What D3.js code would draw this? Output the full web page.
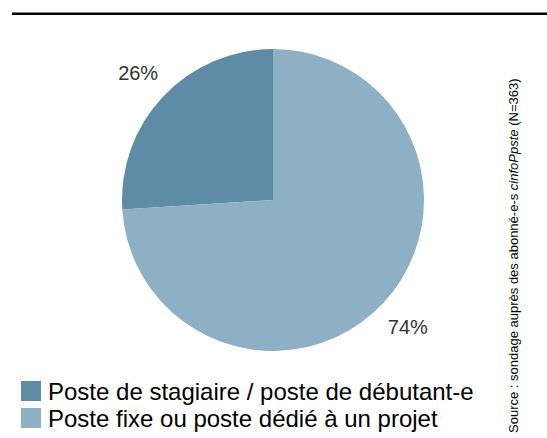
<!DOCTYPE html>
<html>
<head>
<meta charset="utf-8">
<script src="https://cdn.jsdelivr.net/npm/d3@7"></script>
<style>
  body { margin: 0; background: #fff; }
  text { font-family: Arial, "Liberation Sans", sans-serif; }
</style>
</head>
<body>
<svg id="chart" width="547" height="438"></svg>
<script>
// data
const categories = ["Poste de stagiaire / poste de débutant-e", "Poste fixe ou poste dédié à un projet"];
const values = [26, 74];
const colors = ["#5e8ca6", "#8eb0c4"];
const sourceText = ["Source : sondage auprès des abonné-e-s ", "cinfoPpste", " (N=363)"];

const svg = d3.select("#chart");

// rule at the top
svg.append("line")
  .attr("x1", 12).attr("x2", 547)
  .attr("y1", 13.8).attr("y2", 13.8)
  .attr("stroke", "#000")
  .attr("stroke-width", 2.5);

const cx = 273, cy = 200, r = 151;

// default pie sort puts the big slice first, starting at 12 o'clock
const pie = d3.pie().value((d) => d.value);
const arcs = pie(categories.map((c, i) => ({ name: c, value: values[i], color: colors[i] })));

const arc = d3.arc().innerRadius(0).outerRadius(r);
const labelArc = d3.arc().innerRadius(185).outerRadius(185);

const g = svg.append("g").attr("transform", `translate(${cx},${cy})`);

g.selectAll("path")
  .data(arcs)
  .enter()
  .append("path")
  .attr("d", arc)
  .attr("fill", (d) => d.data.color);

g.selectAll(".lbl")
  .data(arcs)
  .enter()
  .append("text")
  .attr("class", "lbl")
  .attr("transform", (d) => `translate(${labelArc.centroid(d)})`)
  .attr("text-anchor", "middle")
  .attr("dy", "0.35em")
  .attr("font-size", 20)
  .attr("fill", "#333")
  .text((d) => d.data.value + "%");

// legend
const legend = svg.selectAll(".legend")
  .data(categories)
  .enter()
  .append("g")
  .attr("class", "legend")
  .attr("transform", (d, i) => `translate(21,${381 + i * 27})`);

legend.append("rect")
  .attr("width", 20)
  .attr("height", 20)
  .attr("fill", (d, i) => colors[i]);

legend.append("text")
  .attr("x", 27)
  .attr("y", 18.5)
  .attr("font-size", 24)
  .attr("fill", "#000")
  .text((d) => d);

// source, rotated on the right
const src = svg.append("text")
  .attr("transform", "translate(518,433) rotate(-90)")
  .attr("font-size", 13)
  .attr("fill", "#000");
sourceText.forEach((t, i) => {
  src.append("tspan")
    .attr("font-style", i === 1 ? "italic" : "normal")
    .text(t);
});
</script>
</body>
</html>
